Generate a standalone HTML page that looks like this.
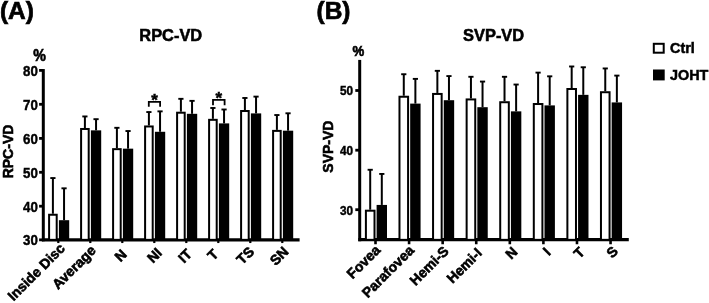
<!DOCTYPE html>
<html><head><meta charset="utf-8"><title>Figure</title>
<style>
html,body{margin:0;padding:0;background:#fff;}
svg{display:block}
.xl{font-size:14.0px !important;stroke-width:0.6px !important}
.t{font-family:"Liberation Sans", Arial, Helvetica, sans-serif;font-weight:bold;font-size:13.5px;fill:#000;stroke:#000;stroke-width:0.25px}
</style></head><body>
<svg width="709" height="303" viewBox="0 0 709 303">
<rect width="709" height="303" fill="#fff"/>
<line x1="43.3" y1="69.05" x2="43.3" y2="241.25" stroke="#000" stroke-width="3.0"/>
<line x1="41.9" y1="239.85" x2="299.6" y2="239.85" stroke="#000" stroke-width="3.1"/>
<line x1="39.099999999999994" y1="239.85" x2="43.3" y2="239.85" stroke="#000" stroke-width="2.8"/>
<text transform="translate(37.90,245.15) scale(1,1.12)" text-anchor="end" class="t" style="font-size:13.3px;stroke-width:0.4px">30</text>
<line x1="39.099999999999994" y1="206.20" x2="43.3" y2="206.20" stroke="#000" stroke-width="2.8"/>
<text transform="translate(37.90,211.50) scale(1,1.12)" text-anchor="end" class="t" style="font-size:13.3px;stroke-width:0.4px">40</text>
<line x1="39.099999999999994" y1="172.30" x2="43.3" y2="172.30" stroke="#000" stroke-width="2.8"/>
<text transform="translate(37.90,177.60) scale(1,1.12)" text-anchor="end" class="t" style="font-size:13.3px;stroke-width:0.4px">50</text>
<line x1="39.099999999999994" y1="138.40" x2="43.3" y2="138.40" stroke="#000" stroke-width="2.8"/>
<text transform="translate(37.90,143.70) scale(1,1.12)" text-anchor="end" class="t" style="font-size:13.3px;stroke-width:0.4px">60</text>
<line x1="39.099999999999994" y1="104.30" x2="43.3" y2="104.30" stroke="#000" stroke-width="2.8"/>
<text transform="translate(37.90,109.60) scale(1,1.12)" text-anchor="end" class="t" style="font-size:13.3px;stroke-width:0.4px">70</text>
<line x1="39.099999999999994" y1="70.40" x2="43.3" y2="70.40" stroke="#000" stroke-width="2.8"/>
<text transform="translate(37.90,75.70) scale(1,1.12)" text-anchor="end" class="t" style="font-size:13.3px;stroke-width:0.4px">80</text>
<line x1="58.30" y1="239.85" x2="58.30" y2="243.04999999999998" stroke="#000" stroke-width="2.2"/>
<line x1="52.90" y1="178.05" x2="52.90" y2="213.75" stroke="#000" stroke-width="2.0"/>
<line x1="50.30" y1="178.05" x2="55.50" y2="178.05" stroke="#000" stroke-width="1.9"/>
<line x1="64.05" y1="188.32" x2="64.05" y2="220.19" stroke="#000" stroke-width="2.0"/>
<line x1="61.45" y1="188.32" x2="66.65" y2="188.32" stroke="#000" stroke-width="1.9"/>
<rect x="49.10" y="214.75" width="7.60" height="25.10" fill="#fff" stroke="#000" stroke-width="2"/>
<rect x="58.90" y="220.19" width="10.30" height="19.66" fill="#000"/>
<text transform="translate(65.80,249.35) rotate(-45)" text-anchor="end" class="t xl">Inside Disc</text>
<line x1="90.30" y1="239.85" x2="90.30" y2="243.04999999999998" stroke="#000" stroke-width="2.2"/>
<line x1="84.90" y1="116.45" x2="84.90" y2="127.98" stroke="#000" stroke-width="2.0"/>
<line x1="82.30" y1="116.45" x2="87.50" y2="116.45" stroke="#000" stroke-width="1.9"/>
<line x1="96.05" y1="119.17" x2="96.05" y2="130.35" stroke="#000" stroke-width="2.0"/>
<line x1="93.45" y1="119.17" x2="98.65" y2="119.17" stroke="#000" stroke-width="1.9"/>
<rect x="81.10" y="128.98" width="7.60" height="110.87" fill="#fff" stroke="#000" stroke-width="2"/>
<rect x="90.90" y="130.35" width="10.30" height="109.50" fill="#000"/>
<text transform="translate(96.80,251.35) rotate(-45)" text-anchor="end" class="t xl">Average</text>
<line x1="122.30" y1="239.85" x2="122.30" y2="243.04999999999998" stroke="#000" stroke-width="2.2"/>
<line x1="116.90" y1="127.81" x2="116.90" y2="148.15" stroke="#000" stroke-width="2.0"/>
<line x1="114.30" y1="127.81" x2="119.50" y2="127.81" stroke="#000" stroke-width="1.9"/>
<line x1="128.05" y1="131.03" x2="128.05" y2="148.66" stroke="#000" stroke-width="2.0"/>
<line x1="125.45" y1="131.03" x2="130.65" y2="131.03" stroke="#000" stroke-width="1.9"/>
<rect x="113.10" y="149.15" width="7.60" height="90.70" fill="#fff" stroke="#000" stroke-width="2"/>
<rect x="122.90" y="148.66" width="10.30" height="91.19" fill="#000"/>
<text transform="translate(127.70,255.35) rotate(-45)" text-anchor="end" class="t xl">N</text>
<line x1="154.30" y1="239.85" x2="154.30" y2="243.04999999999998" stroke="#000" stroke-width="2.2"/>
<line x1="148.90" y1="112.05" x2="148.90" y2="125.47" stroke="#000" stroke-width="2.0"/>
<line x1="146.30" y1="112.05" x2="151.50" y2="112.05" stroke="#000" stroke-width="1.9"/>
<line x1="160.05" y1="111.37" x2="160.05" y2="131.78" stroke="#000" stroke-width="2.0"/>
<line x1="157.45" y1="111.37" x2="162.65" y2="111.37" stroke="#000" stroke-width="1.9"/>
<rect x="145.10" y="126.47" width="7.60" height="113.38" fill="#fff" stroke="#000" stroke-width="2"/>
<rect x="154.90" y="131.78" width="10.30" height="108.07" fill="#000"/>
<text transform="translate(162.80,253.85) rotate(-45)" text-anchor="end" class="t xl">NI</text>
<line x1="186.30" y1="239.85" x2="186.30" y2="243.04999999999998" stroke="#000" stroke-width="2.2"/>
<line x1="180.90" y1="98.83" x2="180.90" y2="111.71" stroke="#000" stroke-width="2.0"/>
<line x1="178.30" y1="98.83" x2="183.50" y2="98.83" stroke="#000" stroke-width="1.9"/>
<line x1="192.05" y1="100.86" x2="192.05" y2="113.81" stroke="#000" stroke-width="2.0"/>
<line x1="189.45" y1="100.86" x2="194.65" y2="100.86" stroke="#000" stroke-width="1.9"/>
<rect x="177.10" y="112.71" width="7.60" height="127.14" fill="#fff" stroke="#000" stroke-width="2"/>
<rect x="186.90" y="113.81" width="10.30" height="126.04" fill="#000"/>
<text transform="translate(192.70,255.05) rotate(-45)" text-anchor="end" class="t xl">IT</text>
<line x1="218.30" y1="239.85" x2="218.30" y2="243.04999999999998" stroke="#000" stroke-width="2.2"/>
<line x1="212.90" y1="107.98" x2="212.90" y2="118.83" stroke="#000" stroke-width="2.0"/>
<line x1="210.30" y1="107.98" x2="215.50" y2="107.98" stroke="#000" stroke-width="1.9"/>
<line x1="224.05" y1="109.50" x2="224.05" y2="123.40" stroke="#000" stroke-width="2.0"/>
<line x1="221.45" y1="109.50" x2="226.65" y2="109.50" stroke="#000" stroke-width="1.9"/>
<rect x="209.10" y="119.83" width="7.60" height="120.02" fill="#fff" stroke="#000" stroke-width="2"/>
<rect x="218.90" y="123.40" width="10.30" height="116.45" fill="#000"/>
<text transform="translate(219.30,255.25) rotate(-45)" text-anchor="end" class="t xl">T</text>
<line x1="250.30" y1="239.85" x2="250.30" y2="243.04999999999998" stroke="#000" stroke-width="2.2"/>
<line x1="244.90" y1="97.98" x2="244.90" y2="110.01" stroke="#000" stroke-width="2.0"/>
<line x1="242.30" y1="97.98" x2="247.50" y2="97.98" stroke="#000" stroke-width="1.9"/>
<line x1="256.05" y1="96.62" x2="256.05" y2="113.40" stroke="#000" stroke-width="2.0"/>
<line x1="253.45" y1="96.62" x2="258.65" y2="96.62" stroke="#000" stroke-width="1.9"/>
<rect x="241.10" y="111.01" width="7.60" height="128.84" fill="#fff" stroke="#000" stroke-width="2"/>
<rect x="250.90" y="113.40" width="10.30" height="126.45" fill="#000"/>
<text transform="translate(255.00,252.55) rotate(-45)" text-anchor="end" class="t xl">TS</text>
<line x1="282.30" y1="239.85" x2="282.30" y2="243.04999999999998" stroke="#000" stroke-width="2.2"/>
<line x1="276.90" y1="115.03" x2="276.90" y2="129.88" stroke="#000" stroke-width="2.0"/>
<line x1="274.30" y1="115.03" x2="279.50" y2="115.03" stroke="#000" stroke-width="1.9"/>
<line x1="288.05" y1="113.30" x2="288.05" y2="130.69" stroke="#000" stroke-width="2.0"/>
<line x1="285.45" y1="113.30" x2="290.65" y2="113.30" stroke="#000" stroke-width="1.9"/>
<rect x="273.10" y="130.88" width="7.60" height="108.97" fill="#fff" stroke="#000" stroke-width="2"/>
<rect x="282.90" y="130.69" width="10.30" height="109.16" fill="#000"/>
<text transform="translate(289.40,252.55) rotate(-45)" text-anchor="end" class="t xl">SN</text>
<path d="M148.8 106.8 V101.8 H160.1 V106.8" fill="none" stroke="#000" stroke-width="1.8"/>
<text x="154.6" y="106.4" text-anchor="middle" class="t" style="font-size:17px;stroke-width:0.5px">*</text>
<path d="M213.0 105.2 V99.9 H224.6 V105.2" fill="none" stroke="#000" stroke-width="1.8"/>
<text x="218.7" y="104.4" text-anchor="middle" class="t" style="font-size:17px;stroke-width:0.5px">*</text>
<text transform="translate(39.50,61.10) scale(1,1.12)" text-anchor="middle" class="t" style="font-size:14.2px;stroke-width:0.6px">%</text>
<text transform="translate(12.80,151.50) rotate(-90) scale(1,1.0)" text-anchor="middle" class="t" style="font-size:14.0px;stroke-width:0.6px">RPC-VD</text>
<text transform="translate(170.75,41.00) scale(1,1.02)" text-anchor="middle" class="t" style="font-size:16.4px;stroke-width:0.55px">RPC-VD</text>
<text transform="translate(16.90,19.20) scale(1,0.97)" text-anchor="middle" class="t" style="font-size:24.5px;stroke-width:0.7px">(A)</text>
<line x1="359.7" y1="59.9" x2="359.7" y2="241.25" stroke="#000" stroke-width="3.0"/>
<line x1="358.3" y1="239.65" x2="628.8" y2="239.65" stroke="#000" stroke-width="3.2"/>
<line x1="355.3" y1="209.70" x2="359.7" y2="209.70" stroke="#000" stroke-width="2.8"/>
<text transform="translate(353.00,214.60) scale(1,1.16)" text-anchor="end" class="t" style="font-size:11.8px;stroke-width:0.4px">30</text>
<line x1="355.3" y1="150.20" x2="359.7" y2="150.20" stroke="#000" stroke-width="2.8"/>
<text transform="translate(353.00,155.10) scale(1,1.16)" text-anchor="end" class="t" style="font-size:11.8px;stroke-width:0.4px">40</text>
<line x1="355.3" y1="90.50" x2="359.7" y2="90.50" stroke="#000" stroke-width="2.8"/>
<text transform="translate(353.00,95.40) scale(1,1.16)" text-anchor="end" class="t" style="font-size:11.8px;stroke-width:0.4px">50</text>
<line x1="375.50" y1="239.85" x2="375.50" y2="244.25" stroke="#000" stroke-width="2.6"/>
<line x1="370.20" y1="169.77" x2="370.20" y2="209.70" stroke="#000" stroke-width="2.0"/>
<line x1="367.60" y1="169.77" x2="372.80" y2="169.77" stroke="#000" stroke-width="1.9"/>
<line x1="381.80" y1="173.94" x2="381.80" y2="204.93" stroke="#000" stroke-width="2.0"/>
<line x1="379.20" y1="173.94" x2="384.40" y2="173.94" stroke="#000" stroke-width="1.9"/>
<rect x="365.90" y="210.70" width="8.60" height="29.15" fill="#fff" stroke="#000" stroke-width="2"/>
<rect x="376.60" y="204.93" width="10.40" height="34.92" fill="#000"/>
<text transform="translate(381.20,250.95) rotate(-45)" text-anchor="end" class="t xl">Fovea</text>
<line x1="409.08" y1="239.85" x2="409.08" y2="244.25" stroke="#000" stroke-width="2.6"/>
<line x1="403.78" y1="74.23" x2="403.78" y2="95.74" stroke="#000" stroke-width="2.0"/>
<line x1="401.18" y1="74.23" x2="406.38" y2="74.23" stroke="#000" stroke-width="1.9"/>
<line x1="415.38" y1="78.88" x2="415.38" y2="103.61" stroke="#000" stroke-width="2.0"/>
<line x1="412.78" y1="78.88" x2="417.98" y2="78.88" stroke="#000" stroke-width="1.9"/>
<rect x="399.48" y="96.74" width="8.60" height="143.11" fill="#fff" stroke="#000" stroke-width="2"/>
<rect x="410.18" y="103.61" width="10.40" height="136.24" fill="#000"/>
<text transform="translate(414.98,251.15) rotate(-45)" text-anchor="end" class="t xl">Parafovea</text>
<line x1="442.66" y1="239.85" x2="442.66" y2="244.25" stroke="#000" stroke-width="2.6"/>
<line x1="437.36" y1="70.83" x2="437.36" y2="92.94" stroke="#000" stroke-width="2.0"/>
<line x1="434.76" y1="70.83" x2="439.96" y2="70.83" stroke="#000" stroke-width="1.9"/>
<line x1="448.96" y1="76.08" x2="448.96" y2="100.21" stroke="#000" stroke-width="2.0"/>
<line x1="446.36" y1="76.08" x2="451.56" y2="76.08" stroke="#000" stroke-width="1.9"/>
<rect x="433.06" y="93.94" width="8.60" height="145.91" fill="#fff" stroke="#000" stroke-width="2"/>
<rect x="443.76" y="100.21" width="10.40" height="139.64" fill="#000"/>
<text transform="translate(449.66,252.05) rotate(-45)" text-anchor="end" class="t xl">Hemi-S</text>
<line x1="476.24" y1="239.85" x2="476.24" y2="244.25" stroke="#000" stroke-width="2.6"/>
<line x1="470.94" y1="76.79" x2="470.94" y2="98.43" stroke="#000" stroke-width="2.0"/>
<line x1="468.34" y1="76.79" x2="473.54" y2="76.79" stroke="#000" stroke-width="1.9"/>
<line x1="482.54" y1="81.56" x2="482.54" y2="107.19" stroke="#000" stroke-width="2.0"/>
<line x1="479.94" y1="81.56" x2="485.14" y2="81.56" stroke="#000" stroke-width="1.9"/>
<rect x="466.64" y="99.43" width="8.60" height="140.42" fill="#fff" stroke="#000" stroke-width="2"/>
<rect x="477.34" y="107.19" width="10.40" height="132.66" fill="#000"/>
<text transform="translate(482.84,253.85) rotate(-45)" text-anchor="end" class="t xl">Hemi-I</text>
<line x1="509.82" y1="239.85" x2="509.82" y2="244.25" stroke="#000" stroke-width="2.6"/>
<line x1="504.52" y1="76.79" x2="504.52" y2="101.23" stroke="#000" stroke-width="2.0"/>
<line x1="501.92" y1="76.79" x2="507.12" y2="76.79" stroke="#000" stroke-width="1.9"/>
<line x1="516.12" y1="84.54" x2="516.12" y2="111.36" stroke="#000" stroke-width="2.0"/>
<line x1="513.52" y1="84.54" x2="518.72" y2="84.54" stroke="#000" stroke-width="1.9"/>
<rect x="500.22" y="102.23" width="8.60" height="137.62" fill="#fff" stroke="#000" stroke-width="2"/>
<rect x="510.92" y="111.36" width="10.40" height="128.49" fill="#000"/>
<text transform="translate(518.42,252.75) rotate(-45)" text-anchor="end" class="t xl">N</text>
<line x1="543.40" y1="239.85" x2="543.40" y2="244.25" stroke="#000" stroke-width="2.6"/>
<line x1="538.10" y1="72.62" x2="538.10" y2="103.02" stroke="#000" stroke-width="2.0"/>
<line x1="535.50" y1="72.62" x2="540.70" y2="72.62" stroke="#000" stroke-width="1.9"/>
<line x1="549.70" y1="76.32" x2="549.70" y2="105.40" stroke="#000" stroke-width="2.0"/>
<line x1="547.10" y1="76.32" x2="552.30" y2="76.32" stroke="#000" stroke-width="1.9"/>
<rect x="533.80" y="104.02" width="8.60" height="135.83" fill="#fff" stroke="#000" stroke-width="2"/>
<rect x="544.50" y="105.40" width="10.40" height="134.45" fill="#000"/>
<text transform="translate(551.40,253.45) rotate(-45)" text-anchor="end" class="t xl">I</text>
<line x1="576.98" y1="239.85" x2="576.98" y2="244.25" stroke="#000" stroke-width="2.6"/>
<line x1="571.68" y1="66.48" x2="571.68" y2="88.00" stroke="#000" stroke-width="2.0"/>
<line x1="569.08" y1="66.48" x2="574.28" y2="66.48" stroke="#000" stroke-width="1.9"/>
<line x1="583.28" y1="67.26" x2="583.28" y2="94.85" stroke="#000" stroke-width="2.0"/>
<line x1="580.68" y1="67.26" x2="585.88" y2="67.26" stroke="#000" stroke-width="1.9"/>
<rect x="567.38" y="89.00" width="8.60" height="150.85" fill="#fff" stroke="#000" stroke-width="2"/>
<rect x="578.08" y="94.85" width="10.40" height="145.00" fill="#000"/>
<text transform="translate(585.58,253.15) rotate(-45)" text-anchor="end" class="t xl">T</text>
<line x1="610.56" y1="239.85" x2="610.56" y2="244.25" stroke="#000" stroke-width="2.6"/>
<line x1="605.26" y1="68.45" x2="605.26" y2="91.22" stroke="#000" stroke-width="2.0"/>
<line x1="602.66" y1="68.45" x2="607.86" y2="68.45" stroke="#000" stroke-width="1.9"/>
<line x1="616.86" y1="75.60" x2="616.86" y2="102.42" stroke="#000" stroke-width="2.0"/>
<line x1="614.26" y1="75.60" x2="619.46" y2="75.60" stroke="#000" stroke-width="1.9"/>
<rect x="600.96" y="92.22" width="8.60" height="147.63" fill="#fff" stroke="#000" stroke-width="2"/>
<rect x="611.66" y="102.42" width="10.40" height="137.43" fill="#000"/>
<text transform="translate(618.96,252.05) rotate(-45)" text-anchor="end" class="t xl">S</text>
<text transform="translate(358.40,56.10) scale(1,1.1)" text-anchor="middle" class="t" style="font-size:13.2px;stroke-width:0.6px">%</text>
<text transform="translate(333.40,146.60) rotate(-90) scale(1,1.0)" text-anchor="middle" class="t" style="font-size:14.0px;stroke-width:0.6px">SVP-VD</text>
<text transform="translate(493.60,40.60) scale(1,1.02)" text-anchor="middle" class="t" style="font-size:16.4px;stroke-width:0.55px">SVP-VD</text>
<text transform="translate(333.50,19.20) scale(1,0.97)" text-anchor="middle" class="t" style="font-size:24.5px;stroke-width:0.7px">(B)</text>
<rect x="653.8" y="43.8" width="9.9" height="8.9" fill="#fff" stroke="#000" stroke-width="2"/>
<rect x="653.0" y="69.5" width="11.7" height="10.9" fill="#000"/>
<text transform="translate(670.00,53.20) scale(1,1.02)" text-anchor="start" class="t" style="font-size:14.4px;stroke-width:0.5px">Ctrl</text>
<text transform="translate(670.00,80.00) scale(1,1.02)" text-anchor="start" class="t" style="font-size:14.4px;stroke-width:0.5px">JOHT</text>
</svg>
</body></html>
